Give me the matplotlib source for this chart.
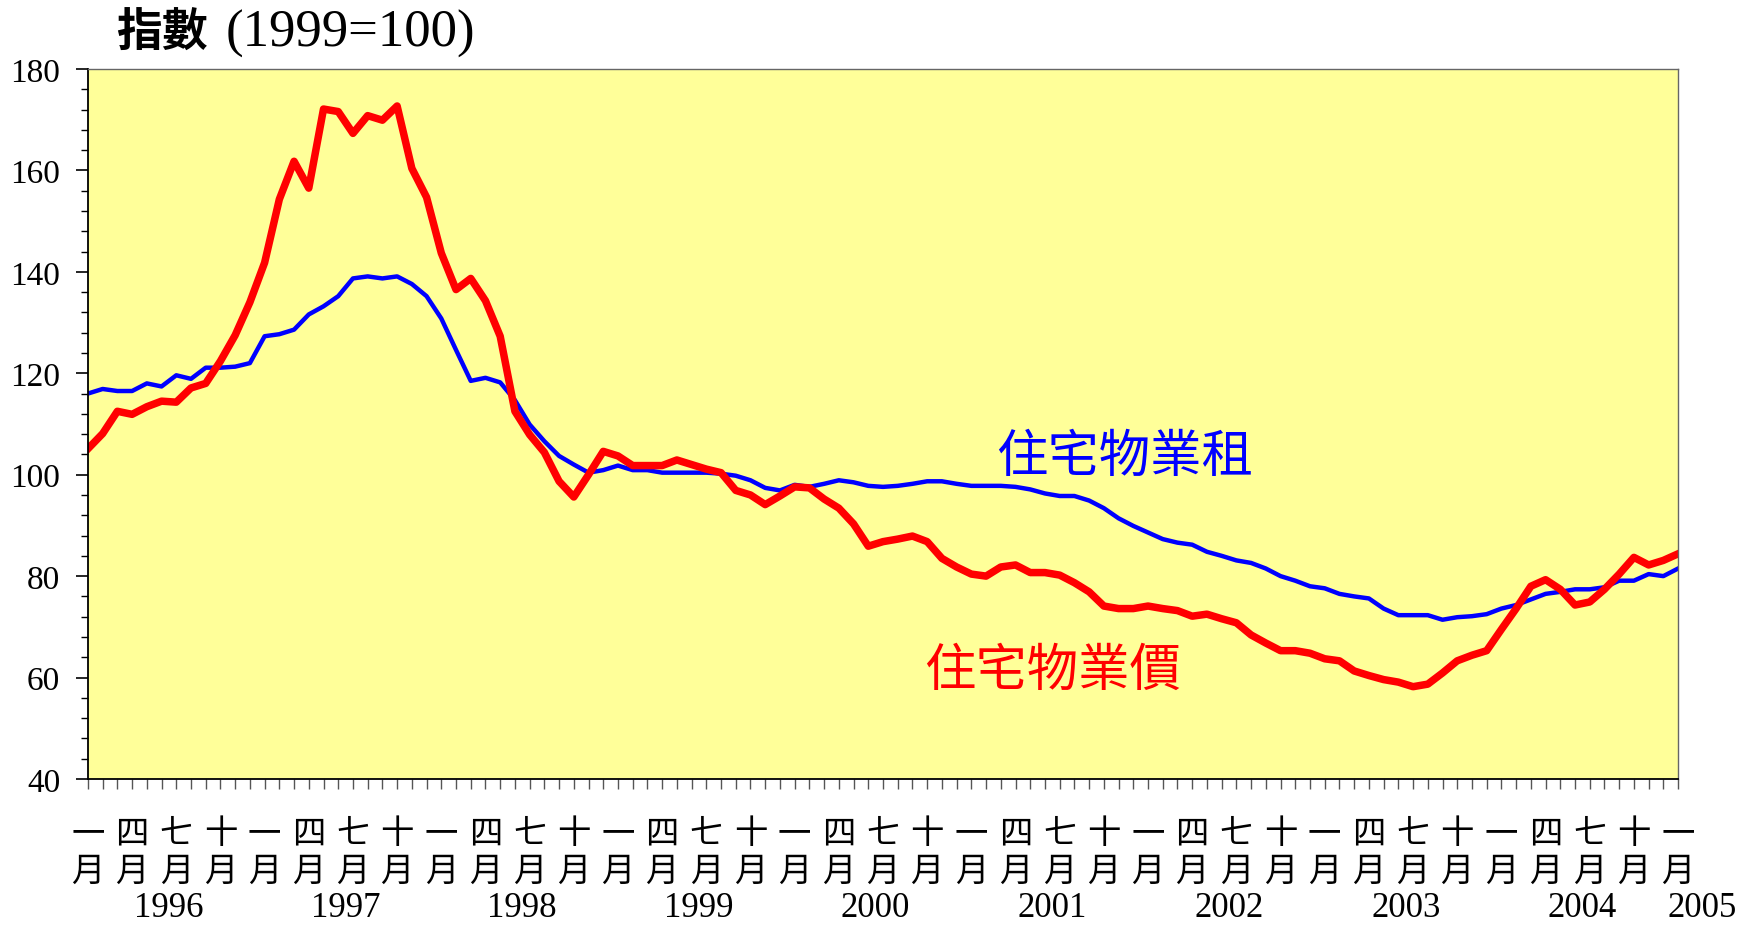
import numpy as np
import matplotlib
matplotlib.use('Agg')
import matplotlib.pyplot as plt
from matplotlib.ticker import MultipleLocator, NullFormatter
from matplotlib.transforms import blended_transform_factory

# monthly index, Jan 1996 .. Jan 2005 (1999 = 100)
price = [105.1, 108.1, 112.5, 111.9, 113.4, 114.5, 114.3, 117.1, 118.0, 122.4,
         127.5, 134.0, 141.8, 154.3, 161.8, 156.5, 172.1, 171.6, 167.3, 170.8,
         169.9, 172.7, 160.4, 154.7, 143.7, 136.5, 138.7, 134.3, 127.3, 112.5,
         107.9, 104.4, 98.7, 95.6, 100.0, 104.6, 103.7, 101.8, 101.8, 101.8,
         102.9, 102.0, 101.1, 100.4, 96.9, 96.0, 94.1, 95.8, 97.6, 97.4,
         95.2, 93.4, 90.3, 85.9, 86.8, 87.3, 87.9, 86.8, 83.5, 81.8,
         80.4, 80.0, 81.8, 82.2, 80.7, 80.7, 80.2, 78.7, 76.9, 74.1,
         73.6, 73.6, 74.1, 73.6, 73.2, 72.1, 72.5, 71.6, 70.8, 68.4,
         66.8, 65.3, 65.3, 64.8, 63.7, 63.3, 61.3, 60.4, 59.6, 59.1,
         58.2, 58.7, 60.9, 63.3, 64.4, 65.3, 69.5, 73.6, 78.0, 79.3,
         77.4, 74.3, 74.9, 77.4, 80.4, 83.7, 82.2, 83.1, 84.4]
rent = [116.0, 116.9, 116.5, 116.5, 118.0, 117.4, 119.6, 118.9, 121.1, 121.1,
        121.3, 122.0, 127.3, 127.7, 128.6, 131.6, 133.2, 135.2, 138.7, 139.1,
        138.7, 139.1, 137.6, 135.2, 130.8, 124.6, 118.5, 119.1, 118.2, 114.7,
        109.9, 106.6, 103.7, 102.0, 100.4, 100.9, 101.8, 100.9, 100.9, 100.4,
        100.4, 100.4, 100.4, 100.2, 99.8, 98.9, 97.4, 96.9, 98.0, 97.6,
        98.2, 98.9, 98.5, 97.8, 97.6, 97.8, 98.2, 98.7, 98.7, 98.2,
        97.8, 97.8, 97.8, 97.6, 97.1, 96.3, 95.8, 95.8, 94.9, 93.4,
        91.4, 89.9, 88.6, 87.3, 86.6, 86.2, 84.8, 84.0, 83.1, 82.6,
        81.5, 80.0, 79.1, 78.0, 77.6, 76.5, 76.0, 75.6, 73.6, 72.3,
        72.3, 72.3, 71.4, 71.9, 72.1, 72.5, 73.6, 74.3, 75.4, 76.5,
        76.9, 77.4, 77.4, 77.8, 79.1, 79.1, 80.4, 80.0, 81.5]
month_names = ['一', '四', '七', '十']
years = [1996, 1997, 1998, 1999, 2000, 2001, 2002, 2003, 2004, 2005]

cjk = 'Noto Sans CJK TC'
serif = 'Liberation Serif'

months = np.arange(len(price))

fig = plt.figure(figsize=(17.48, 9.28), dpi=100)
ax = fig.add_axes([0.0503, 0.1595, 0.9097, 0.7651])
ax.set_facecolor('#ffff99')

ax.plot(months, rent, color='#0000ff', lw=3.2)
ax.plot(months, price, color='#ff0000', lw=5.4)

ax.set_xlim(0, 108)
ax.set_ylim(40, 180)

ax.yaxis.set_major_locator(MultipleLocator(20))
ax.yaxis.set_minor_locator(MultipleLocator(4))
ax.tick_params(axis='y', which='major', direction='out', length=9, width=1.2, pad=11, labelsize=24)
ax.tick_params(axis='y', which='minor', direction='out', length=5, width=1.0)
for lbl in ax.get_yticklabels():
    lbl.set_fontfamily(serif)

ax.xaxis.set_major_locator(MultipleLocator(1))
ax.xaxis.set_major_formatter(NullFormatter())
ax.tick_params(axis='x', which='major', direction='out', length=7, width=1.0, color='#555555')

for s in ['left', 'bottom']:
    ax.spines[s].set_color('black')
    ax.spines[s].set_linewidth(1.3)
for s in ['top', 'right']:
    ax.spines[s].set_color('#666666')
    ax.spines[s].set_linewidth(1.0)

trans = blended_transform_factory(ax.transData, fig.transFigure)
for i in range(0, len(price), 3):
    ax.text(i, 1 - 834 / 928, month_names[(i // 3) % 4], transform=trans,
            ha='center', va='center', fontsize=24, family=cjk, clip_on=False)
    ax.text(i, 1 - 871 / 928, '月', transform=trans,
            ha='center', va='center', fontsize=24, family=cjk, clip_on=False)
for k, yr in enumerate(years):
    xpos = 5.5 + 12 * k if yr < 2005 else 109.6
    ax.text(xpos, 1 - 925 / 928, str(yr), transform=trans,
            ha='center', va='bottom', fontsize=25, family=serif, clip_on=False)

# series labels
ax.text(1125 / 1748, 1 - 457 / 928, '住宅物業租', transform=fig.transFigure,
        ha='center', va='center', fontsize=37, family=cjk, color='#0000ff')
ax.text(1053 / 1748, 1 - 671 / 928, '住宅物業價', transform=fig.transFigure,
        ha='center', va='center', fontsize=37, family=cjk, color='#ff0000')

# title
fig.text(116 / 1748, 1 - 34 / 928, '指數', ha='left', va='center',
         fontsize=33, family=cjk, weight='bold')
fig.text(226 / 1748, 1 - 34 / 928, '(1999=100)', ha='left', va='center',
         fontsize=38, family=serif)

fig.savefig('out.png', dpi=100)
